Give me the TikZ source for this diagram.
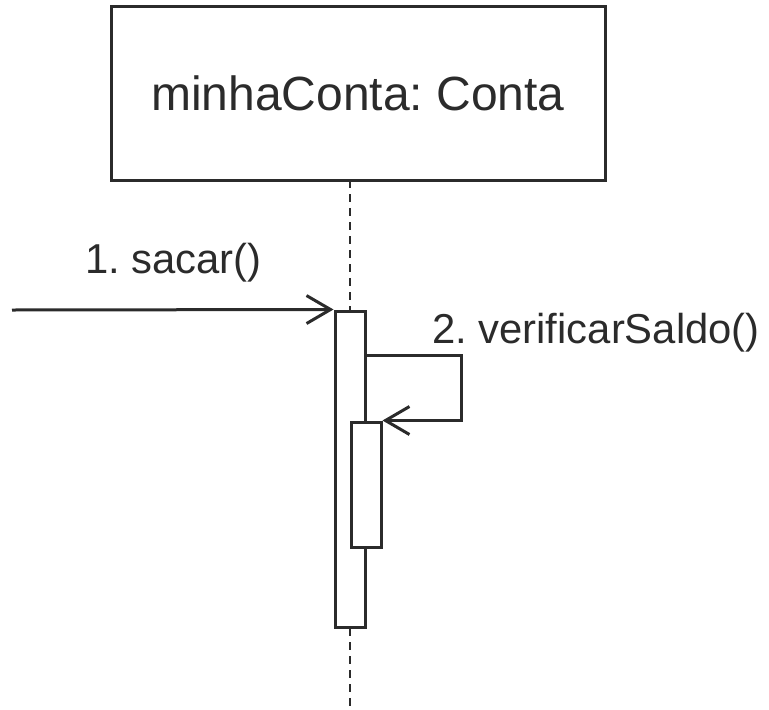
\documentclass[tikz,border=0pt]{standalone}
\usepackage{fontspec}
\setmainfont{Liberation Sans}
\frenchspacing
\usepackage{tikz}
\usetikzlibrary{arrows.meta, positioning}
\usepackage{xcolor}
\definecolor{cLine}{HTML}{2B2B2B}
\definecolor{cText}{HTML}{2B2B2B}
\tikzset{
  object/.style = {
    rectangle,
    draw=cLine,
    line width=3pt,
    text=cText,
    minimum width=494pt,
    minimum height=174pt,
    inner sep=0pt,
    font=\fontsize{48}{58}\selectfont
  },
  activation/.style = {
    rectangle,
    draw=cLine,
    fill=white,
    line width=3pt,
    minimum width=30pt,
    inner sep=0pt
  },
  lifeline/.style = {
    draw=cLine,
    line width=2.2pt,
    dash pattern=on 8pt off 6pt
  },
  call/.style = {
    draw=cLine,
    line width=3pt,
    -{Straight Barb[length=24pt,width=28pt,line width=3pt]}
  },
  msglabel/.style = {
    text=cText,
    inner sep=0pt,
    anchor=base west,
    font=\fontsize{41.8}{50}\selectfont
  },
}
\begin{document}
\begin{tikzpicture}[x=1pt, y=-1pt]
    \useasboundingbox (0,0) rectangle (769,710);
    \node [object] (conta) at (358,93) {minhaConta: Conta};
    \coordinate (lifetop) at (350,180);
    \coordinate (lifeend) at (350,710);
    \path [lifeline] (lifetop) -- (lifeend);
    \node [activation, minimum height=316pt] (act-1) at (350,469) {};
    \node [activation, minimum height=125pt] (act-2) at (366,484.5) {};
    \coordinate (caller) at (12,310);
    \coordinate (selfout) at (365,355);
    \path [call] (caller) -- (act-1.north west);
    \path [call] (selfout) -- ++(96,0) |- (act-2.north east);
    \node [msglabel] (msg-1) at (85,273) {1. sacar()};
    \node [msglabel] (msg-2) at (432,343) {2. verificarSaldo()};
  \end{tikzpicture}
\end{document}
